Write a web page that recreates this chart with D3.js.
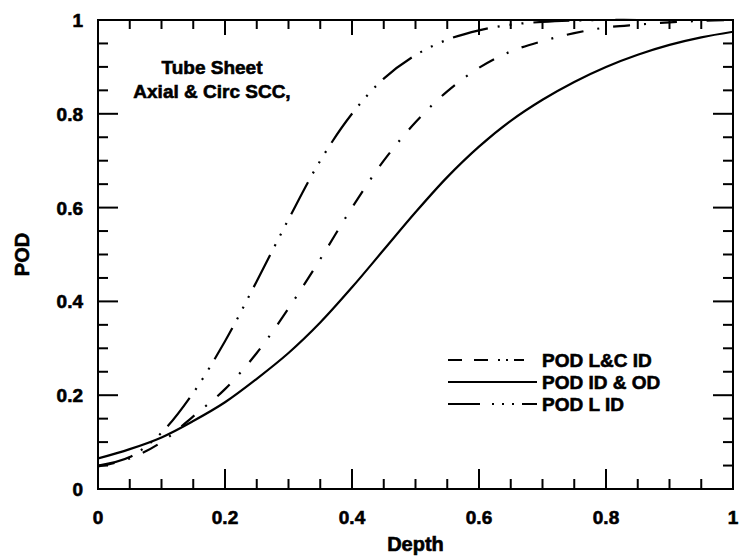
<!DOCTYPE html>
<html>
<head>
<meta charset="utf-8">
<script src="https://cdn.jsdelivr.net/npm/d3@7"></script>
<style>
  html, body { margin: 0; padding: 0; background: #fff; }
  svg { display: block; }
  text { font-family: "Liberation Sans", Arial, Helvetica, sans-serif; font-weight: bold; fill: #000; stroke: #000; stroke-width: 0.6px; }
</style>
</head>
<body>
<svg id="chart" width="740" height="559"></svg>
<script>
// ---- data ----
const depth = [0, 0.05, 0.1, 0.15, 0.2, 0.25, 0.3, 0.35, 0.4, 0.45, 0.5, 0.55, 0.6, 0.65, 0.7, 0.75, 0.8, 0.85, 0.9, 0.95, 1.0];
const podLCID = [0.048, 0.065, 0.1, 0.155, 0.213, 0.29, 0.385, 0.49, 0.6, 0.7, 0.782, 0.848, 0.898, 0.933, 0.955, 0.972, 0.984, 0.99, 0.995, 0.998, 1.0];
const podIDOD = [0.065, 0.085, 0.11, 0.145, 0.185, 0.235, 0.29, 0.355, 0.43, 0.51, 0.59, 0.665, 0.73, 0.785, 0.83, 0.868, 0.9, 0.926, 0.947, 0.963, 0.975];
const podLID  = [0.05, 0.068, 0.12, 0.205, 0.315, 0.443, 0.575, 0.7, 0.8, 0.875, 0.925, 0.958, 0.978, 0.99, 0.996, 0.999, 1.0, 1.0, 1.0, 1.0, 1.0];
const seriesNames = ["POD L&C ID", "POD ID & OD", "POD L ID"];
const xTickLabels = [0, 0.2, 0.4, 0.6, 0.8, 1];
const yTickLabels = [0, 0.2, 0.4, 0.6, 0.8, 1];
const titleLines = ["Tube Sheet", "Axial & Circ SCC,"];
const xTitle = "Depth";
const yTitle = "POD";

// ---- layout ----
const svg = d3.select("#chart");
const L = 98, R = 733, T = 20, B = 489;
const x = d3.scaleLinear().domain([0, 1]).range([L, R]);
const y = d3.scaleLinear().domain([0, 1]).range([B, T]);

const minor = d3.range(0, 1.0001, 0.05).map(v => +v.toFixed(2));
const isMajor = v => Math.abs(v * 5 - Math.round(v * 5)) < 1e-6;

// frame
svg.append("rect").attr("x", L).attr("y", T).attr("width", R - L).attr("height", B - T)
  .attr("fill", "none").attr("stroke", "#000").attr("stroke-width", 2);

const g = svg.append("g");
minor.forEach(v => {
  const len = isMajor(v) ? 20 : 10;
  if (v > 0 && v < 1) {
    g.append("line").attr("x1", x(v)).attr("x2", x(v)).attr("y1", B).attr("y2", B - len);
    g.append("line").attr("x1", x(v)).attr("x2", x(v)).attr("y1", T).attr("y2", T + (isMajor(v) ? 15 : 9));
    g.append("line").attr("y1", y(v)).attr("y2", y(v)).attr("x1", L).attr("x2", L + len);
    g.append("line").attr("y1", y(v)).attr("y2", y(v)).attr("x1", R).attr("x2", R - len);
  }
});
g.selectAll("line").attr("stroke", "#000").attr("stroke-width", 2);

// tick labels
svg.append("g").selectAll("text").data(xTickLabels).join("text")
  .attr("x", d => x(d)).attr("y", B + 35)
  .attr("text-anchor", "middle").attr("font-size", 19)
  .text(d => d3.format("")(d));
svg.append("g").selectAll("text").data(yTickLabels).join("text")
  .attr("x", L - 15).attr("y", d => y(d) + 7)
  .attr("text-anchor", "end").attr("font-size", 19)
  .text(d => d3.format("")(d));

// axis titles
svg.append("text").attr("x", (L + R) / 2).attr("y", B + 62).attr("text-anchor", "middle")
  .attr("font-size", 20).text(xTitle);
svg.append("text").attr("transform", `translate(29,${(T + B) / 2}) rotate(-90)`)
  .attr("text-anchor", "middle").attr("font-size", 20).text(yTitle);

// curves
const line = d3.line().x((d, i) => x(depth[i])).y(d => y(d)).curve(d3.curveCatmullRom.alpha(0.5));
const styles = [
  { data: podLCID, dash: "17,14,2,14" },
  { data: podIDOD, dash: null },
  { data: podLID, dash: "36,10,2,10,2,10,2,10" }
];
svg.append("clipPath").attr("id", "clip").append("rect")
  .attr("x", L).attr("y", T - 2).attr("width", R - L).attr("height", B - T + 2);
styles.forEach(s => {
  svg.append("path").datum(s.data).attr("d", line)
    .attr("fill", "none").attr("stroke", "#000").attr("stroke-width", 2.2)
    .attr("stroke-dasharray", s.dash).attr("clip-path", "url(#clip)");
});

// title
svg.append("g").selectAll("text").data(titleLines).join("text")
  .attr("x", 212).attr("y", (d, i) => 74 + i * 24)
  .attr("text-anchor", "middle").attr("font-size", 19).text(d => d);

// legend
const legY = [360, 382, 404];
const legDash = ["14,12,14,10,2,6,2,6,10", null, "32,12,2,8,2,8,2,8"];
seriesNames.forEach((name, i) => {
  svg.append("line").attr("x1", 448).attr("x2", 537).attr("y1", legY[i]).attr("y2", legY[i])
    .attr("stroke", "#000").attr("stroke-width", 2).attr("stroke-dasharray", legDash[i]);
  svg.append("text").attr("x", 542).attr("y", legY[i] + 7).attr("font-size", 19).text(name);
});
</script>
</body>
</html>
